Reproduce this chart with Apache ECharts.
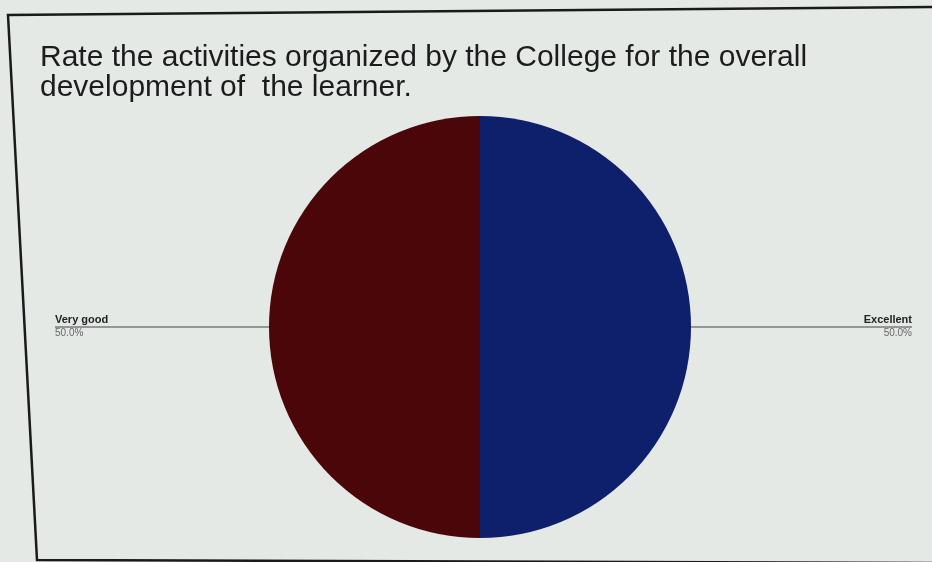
<!DOCTYPE html>
<html>
<head>
<meta charset="utf-8">
<script src="https://cdn.jsdelivr.net/npm/echarts@6/dist/echarts.min.js"></script>
<style>
    html, body { margin: 0; padding: 0; background: #e4e9e6; }
    #chart { width: 932px; height: 562px; }
</style>
</head>
<body>
<div id="chart"></div>
<script>
// Survey answers, share of responses
const categories = ['Excellent', 'Very good'];
const values = [50, 50];
const sliceColors = ['#0e1f6b', '#4a0609'];

const chart = echarts.init(document.getElementById('chart'));

chart.setOption({
    backgroundColor: '#e4e9e6',
    animation: false,
    title: {
        text: 'Rate the activities organized by the College for the overall\ndevelopment of  the learner.',
        left: 35,
        top: 38,
        textStyle: {
            fontFamily: 'Liberation Sans, Arial, sans-serif',
            fontSize: 30,
            fontWeight: 'normal',
            color: '#1c1c1c',
            lineHeight: 30
        }
    },
    // the printed frame, photographed slightly askew
    graphic: [{
        type: 'polyline',
        shape: { points: [[940, 7], [8, 15], [37, 560], [940, 563]] },
        style: { fill: 'none', stroke: '#1a1a1a', lineWidth: 2.5 },
        silent: true
    }],
    series: [{
        type: 'pie',
        center: [480, 327],
        radius: 211,
        startAngle: 90,
        clockwise: true,
        data: categories.map((name, i) => ({
            name,
            value: values[i],
            itemStyle: { color: sliceColors[i] },
            label: { edgeDistance: i === 0 ? 20 : 55 }
        })),
        label: {
            alignTo: 'edge',
            formatter: p => '{name|' + p.name + '}\n{pct|' + p.percent.toFixed(1) + '%}',
            minMargin: 5,
            lineHeight: 13,
            rich: {
                name: { fontFamily: 'Liberation Sans, Arial, sans-serif', fontSize: 11, fontWeight: 'bold', color: '#222', padding: [0, 0, 2, 0] },
                pct: { fontFamily: 'Liberation Sans, Arial, sans-serif', fontSize: 10, color: '#666' }
            }
        },
        labelLine: {
            length: 5,
            length2: 0,
            lineStyle: { color: '#444', width: 1 }
        },
        labelLayout: function (params) {
            const isLeft = params.labelRect.x < 466;
            const points = params.labelLinePoints;
            if (points) {
                points[2][0] = isLeft ? params.labelRect.x : params.labelRect.x + params.labelRect.width;
            }
            return { labelLinePoints: points };
        }
    }]
});
</script>
</body>
</html>
